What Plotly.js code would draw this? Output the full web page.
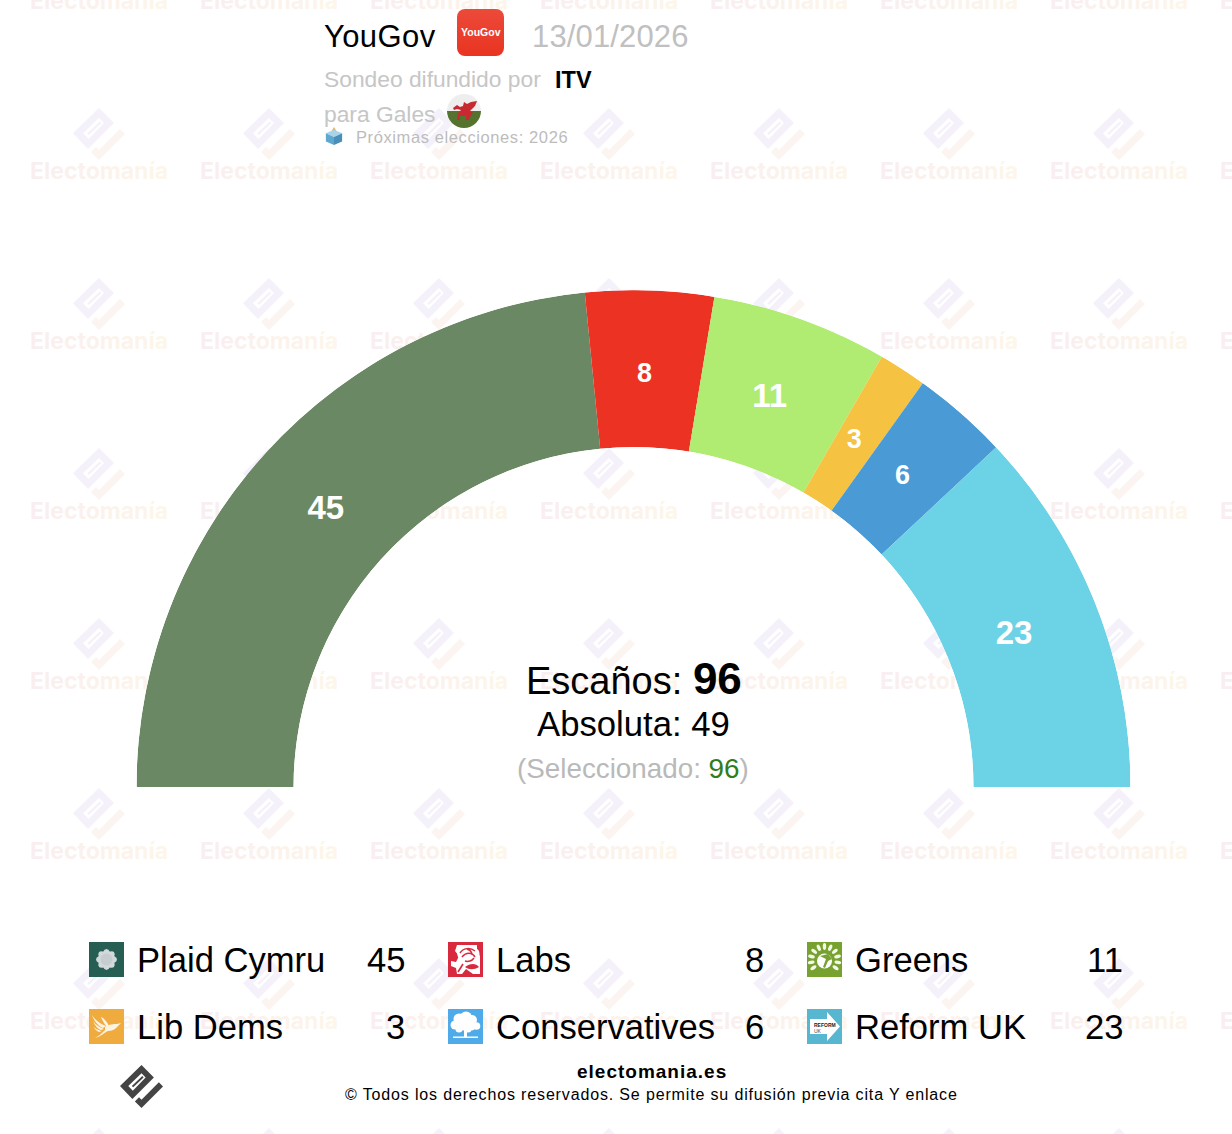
<!DOCTYPE html>
<html><head><meta charset="utf-8">
<script src="https://cdn.plot.ly/plotly-3.0.1.min.js"></script>
<style>html,body{margin:0;padding:0;background:#fff;overflow:hidden}#c{width:1232px;height:1134px}</style>
</head><body><div id="c"></div>
<script>
// ---- data
const parties = ["Plaid Cymru","Labs","Greens","Lib Dems","Conservatives","Reform UK"];
const seats = [45,8,11,3,6,23];
const arcColors = ["#6b8864","#ec3323","#b0ec72","#f5c242","#4a9ad6","#6cd2e6"];
const labelSizes = [33,27,33,27,27,33];
const totalSeats = 96, majority = 49, selected = 96;
const pollster = "YouGov", pollDate = "13/01/2026", sponsor = "ITV", region = "para Gales";
const SANS = "Liberation Sans, Arial, sans-serif";

// ---- layout helpers
const uri = s => "data:image/svg+xml;charset=utf-8," + encodeURIComponent(s);
const logoSvg = (a,b,c) => `<svg xmlns="http://www.w3.org/2000/svg" viewBox="0 0 52 52"><path fill-rule="evenodd" fill="${a}" d="M0 25.3L26 0 41 15 15 41zM10 25.3L15.5 31 31 15 26 10z"/><path fill="${a}" d="M14.3 25.3L27 13.3 28.5 15 16 27z"/><path fill="${b}" d="M47 21L52 26 26 52 18 44 23 39 26 42z"/></svg>`;
const icon = (bg, inner) => uri(`<svg xmlns="http://www.w3.org/2000/svg" viewBox="0 0 35 35"><rect width="35" height="35" fill="${bg}"/>${inner}</svg>`);
const petals = [0,45,90,135].map(r=>`<ellipse cx="17.5" cy="17.5" rx="10.5" ry="5" fill="#d3d8db" transform="rotate(${r} 17.5 17.5)"/>`).join("");
const rays = [-100,-75,-50,-25,0,25,50,75,100,125,-125].map(r=>`<ellipse cx="17.5" cy="4.5" rx="1.7" ry="3.4" fill="#f4f8ea" transform="rotate(${r} 17.5 18)"/>`).join("");
const icons = [
 icon("#265e54", petals+`<circle cx="17.5" cy="17.5" r="6" fill="#c5ccd2"/>`),
 icon("#d8293f", `<rect x="3" y="3" width="29" height="29" fill="#fff"/><path d="M3 3H9L7 9 11 14 8 20 3 19zM3 24L8 26 9 32H3zM14 32L18 27 25 32zM29 3H32V14L29 10z" fill="#d8293f"/><path d="M9 11C12 3 26 2 31 9C33 15 29 21 23 23C16 24 10 19 9 11z" fill="#fff"/><path d="M12 11c3-5 10-6 15-2M14 15c4-5 10-5 13 0M17 19c3 1 7 0 9-3M19 7c3 1 5 3 5 6" fill="none" stroke="#d8293f" stroke-width="1.5"/><path d="M15 22L10 30" stroke="#d8293f" stroke-width="1.6"/><path d="M17 25C21 28 26 28 31 25C28 21 22 21 17 25z" fill="#d8293f"/>`),
 icon("#78a22f", rays+`<circle cx="17.5" cy="19" r="7.5" fill="#fff"/><path d="M13 14l6 3-3 8 2 1 3-7 4-2-4-5z" fill="#78a22f"/>`),
 icon("#f0ab3e", `<g fill="#fdf3e0"><path d="M3 6C6 11 10 14 17 17L14 19C9 17 5 12 3 6z"/><path d="M4 12C7 16 10 18 15 20L12 21C9 20 6 17 4 12z"/><path d="M5 18C8 21 10 21 13 22L10 23C8 22 6 21 5 18z"/><path d="M12 8C15 9 18 13 20 17L17 17C15 14 13 11 12 8z"/><path d="M16 18C20 15 25 15 28 15L32 14 29 17C27 20 23 22 19 22C15 24 11 28 6 29C10 27 13 24 16 21z"/></g>`),
 icon("#4eaae8", `<g fill="#fff"><circle cx="11" cy="10" r="5.5"/><circle cx="18" cy="8.5" r="6"/><circle cx="24" cy="11" r="5"/><circle cx="7" cy="16" r="4.5"/><circle cx="15" cy="15" r="6.5"/><circle cx="23" cy="16" r="5.5"/><circle cx="28.5" cy="17" r="3.8"/><circle cx="11" cy="20" r="3.5"/><circle cx="20" cy="20" r="3.5"/><rect x="16" y="20" width="3" height="8"/><rect x="5" y="27.5" width="25" height="1.4"/></g>`),
 icon("#57b6d0", `<path d="M3 10H20V3L33 17.5 20 32V25H3z" fill="#fff"/>`)
];
const flag = uri(`<svg xmlns="http://www.w3.org/2000/svg" viewBox="0 0 34 34"><clipPath id="k"><circle cx="17" cy="17" r="17"/></clipPath><g clip-path="url(#k)"><rect width="34" height="17" fill="#eeeeee"/><rect y="17" width="34" height="17" fill="#55722f"/><path d="M6 14L10 11 13 13 16 12 17 8 20 10 24 8 30 7 28 12 25 15 23 17 26 19 24 21 22 26 19 26 19 22 13 22 13 26 10 26 11 19 14 16 10 15 7 16z" fill="#c8282f"/></g></svg>`);
const yougov = uri(`<svg xmlns="http://www.w3.org/2000/svg" viewBox="0 0 47 47"><defs><linearGradient id="g" x1="0" y1="0" x2="0" y2="1"><stop offset="0" stop-color="#ec4a3a"/><stop offset="1" stop-color="#e93421"/></linearGradient></defs><rect width="47" height="47" rx="8" fill="url(#g)"/></svg>`);
const ballot = uri(`<svg xmlns="http://www.w3.org/2000/svg" viewBox="0 0 20 20"><path d="M10 0l3 5-3 2-3-2z" fill="#f0b060"/><path d="M1 7l9-4 9 4-9 4z" fill="#a8d4ea"/><path d="M1 7l9 4v9l-9-4z" fill="#5ea8d0"/><path d="M19 7l-9 4v9l9-4z" fill="#4a8fb8"/></svg>`);

// ---- marks
let acc = 0;
const thetaMid = [], widths = [];
seats.forEach(v => { widths.push(v*180/totalSeats); thetaMid.push((acc+v/2)*180/totalSeats); acc += v; });

// watermark tiles (behind the arc)
const wmX = [], wmY = [], wmText = [];
const images = [];
const wm = uri(logoSvg("#f5f1fa","#fcf4f0"));
for (let r=-1;r<7;r++) for (let c=-1;c<8;c++) {
  wmX.push(99+170*c); wmY.push(173+170*r); wmText.push("Electomanía");
  images.push({source:wm,xref:"x",yref:"y",x:73+170*c,y:108+170*r,sizex:52,sizey:52,xanchor:"left",yanchor:"top",sizing:"stretch",layer:"below"});
}
const place = (source,x,y,w,h) => images.push({source,xref:"x",yref:"y",x,y,sizex:w,sizey:h,xanchor:"left",yanchor:"top",sizing:"stretch",layer:"above"});
place(uri(logoSvg("#444444","#444444")),120,1065,43,43);
place(yougov,457,9,47,47);
place(flag,447,94,34,34);
place(ballot,325,127,18,18);

const sp = (t,s) => s ? `<span style="letter-spacing:${s}px">${t}</span>` : t;
const T = (x,y,text,size,color,anchor,bold,spacing) => ({xref:"x",yref:"y",x,y,text:sp(bold?`<b>${text}</b>`:text,spacing),showarrow:false,xanchor:anchor||"left",yanchor:"middle",align:anchor||"left",font:{family:SANS,size,color:color||"#000"},borderpad:0,borderwidth:0});

const annotations = [
  T(324,36,pollster,31,"#000","left",false,0.4),
  T(532,36,pollDate,31,"#c0c0c0","left",false,0.15),
  T(324,78.5,"Sondeo difundido por",22.8,"#c6c6c6"),
  T(555,80,sponsor,23.5,"#000","left",true),
  T(324,113.5,region,22.8,"#c6c6c6"),
  T(356,137,"Próximas elecciones: 2026",16.5,"#bcbcbc","left",false,0.6),
  T(480.5,32,"YouGov",10.5,"#fff","center",true),
  T(633.5,678,`Escaños: <b><span style="font-size:44px">${totalSeats}</span></b>`,38,"#000","center"),
  T(633.5,723.5,`Absoluta: ${majority}`,34.7,"#000","center"),
  T(633,768.5,`(Seleccionado: <span style="color:#2f7d1f">${selected}</span>)`,27.8,"#b9b9b9","center"),
  T(651.5,1071.5,"electomania.es",19,"#000","center",true,1),
  T(651,1094,"© Todos los derechos reservados. Se permite su difusión previa cita Y enlace",16,"#000","center",false,0.85),
  T(814,1025,"REFORM",5,"#222","left",true),
  T(814,1031,"UK",5,"#444","left"),
];
const colX = [89,448,807], valX = [404.5,763.5,1122.5], rowY = [959.5,1026.5];
parties.forEach((p,i) => {
  const c = i%3, r = Math.floor(i/3);
  place(icons[i],colX[c],rowY[r]-17.5,35,35);
  annotations.push(T(colX[c]+48,rowY[r],p,34.6));
  annotations.push(T(valX[c],rowY[r],String(seats[i]),34.6,"#000","right"));
});

const traces = [
  {type:"scatter",mode:"text",x:wmX,y:wmY,text:wmText,cliponaxis:true,hoverinfo:"skip",showlegend:false,
   textposition:"middle center",textfont:{family:"Inter, Liberation Sans",size:23,weight:700,color:"#fbf2ef"}},
  {type:"barpolar",r:seats.map(()=>1),theta:thetaMid,width:widths,marker:{color:arcColors,line:{width:0}},hoverinfo:"skip",showlegend:false},
  {type:"scatterpolar",subplot:"polar2",mode:"text",r:seats.map(()=>0.4585),theta:thetaMid,text:seats.map(String),hoverinfo:"skip",showlegend:false,
   textposition:"middle center",textfont:{family:SANS,size:labelSizes,color:"#fff",weight:700}}
];

const ang = {visible:false,direction:"clockwise",rotation:180,thetaunit:"degrees"};
const rad = {visible:false,range:[0,1]};
const layout = {
  width:1232,height:1134,margin:{l:0,r:0,t:0,b:0,pad:0},paper_bgcolor:"#fff",plot_bgcolor:"rgba(0,0,0,0)",showlegend:false,
  xaxis:{range:[0,1232],visible:false,fixedrange:true},
  yaxis:{range:[1134,0],visible:false,fixedrange:true},
  polar:{
    domain:{x:[136.5/1232,1130.5/1232],y:[(1134-787)/1134,(1134-290)/1134]},
    sector:[0,180],hole:0.684,bgcolor:"rgba(0,0,0,0)",bargap:0,radialaxis:rad,angularaxis:ang
  },
  polar2:{
    domain:{x:[134/1232,1128/1232],y:[(1134-787)/1134,(1134-290)/1134]},
    sector:[0,180],hole:0.684,bgcolor:"rgba(0,0,0,0)",radialaxis:rad,angularaxis:ang
  },
  images,annotations
};
Plotly.newPlot("c",traces,layout,{displayModeBar:false,staticPlot:true}).then(gd=>{
  // soft pink-to-cream tint of the watermark wordmark
  const svg = gd.querySelector(".main-svg");
  const NS = "http://www.w3.org/2000/svg";
  const lg = document.createElementNS(NS,"linearGradient");
  lg.setAttribute("id","wmg");
  [["0","#f9eef0"],["1","#fdf6e9"]].forEach(([o,c])=>{const s=document.createElementNS(NS,"stop");s.setAttribute("offset",o);s.setAttribute("stop-color",c);lg.appendChild(s);});
  svg.querySelector("defs").appendChild(lg);
  gd.querySelectorAll(".cartesianlayer .textpoint text").forEach(t=>{t.style.fill="url(#wmg)";});
});
</script></body></html>
